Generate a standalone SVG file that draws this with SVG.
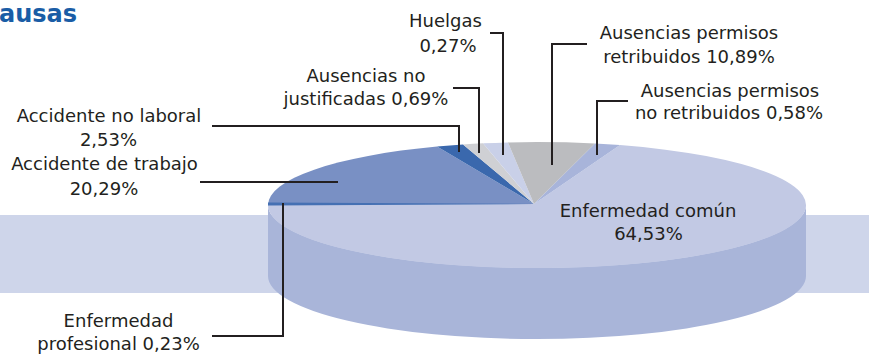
<svg xmlns="http://www.w3.org/2000/svg" width="869" height="354" viewBox="0 0 869 354">
<style>
text{font-family:"DejaVu Sans","Verdana",sans-serif;font-size:18px;fill:#231f20;text-anchor:middle}
.title{font-weight:bold;font-size:24px;fill:#1a5da6;text-anchor:start}
.lead{fill:none;stroke:#231f20;stroke-width:2}
</style>
<rect id="band" x="0" y="215" width="869" height="78" fill="#ced5ea"/>
<text class="title" x="-1" y="22">ausas</text>
<g id="pie">
<path id="side" d="M268,205 L268,276 A269,63 0 0 0 806,276 L806,205 A269,63 0 0 1 268,205 Z" fill="#a9b5d9"/>
<g id="enf-comun"><path d="M534,204 L620,145.1 A269,63 0 1 1 268,205 Z" fill="#c2c9e4"/></g>
<g id="acc-trabajo"><path d="M534,204 L268,205 A269,63 0 0 1 437,146.5 Z" fill="#7990c4"/></g>
<g id="acc-no-laboral"><path d="M534,204 L437,146.5 A269,63 0 0 1 463,144.4 Z" fill="#3a68ad"/></g>
<g id="aus-no-just"><path d="M534,204 L463,144.4 A269,63 0 0 1 483,143.3 Z" fill="#cfd0d4"/></g>
<g id="huelgas"><path d="M534,204 L483,143.3 A269,63 0 0 1 508,142.4 Z" fill="#c9d0e8"/></g>
<g id="perm-retrib"><path d="M534,204 L508,142.4 A269,63 0 0 1 595,143.5 Z" fill="#bbbcbf"/></g>
<g id="perm-no-retrib"><path d="M534,204 L595,143.5 A269,63 0 0 1 620,145.1 Z" fill="#a8b4da"/></g>
<g id="enf-prof"><polygon points="268,202.5 268,205.5 534,204" fill="#4570b3"/></g>
</g>
<g id="connectors">
<polyline class="lead" points="490,33 503,33 503,155"/>
<polyline class="lead" points="587,44 552,44 552,165"/>
<polyline class="lead" points="628,101 597,101 597,155"/>
<polyline class="lead" points="453,88 479,88 479,153"/>
<polyline class="lead" points="212,126 459,126 459,152"/>
<polyline class="lead" points="200,182 338,182"/>
<polyline class="lead" points="212,336 283,336 283,203"/>
</g>
<g id="lbl-huelgas"><text x="445.5" y="27">Huelgas</text><text x="448" y="52">0,27%</text></g>
<g id="lbl-perm-retrib"><text x="689" y="39">Ausencias permisos</text><text x="689" y="63">retribuidos 10,89%</text></g>
<g id="lbl-perm-no-retrib"><text x="730" y="97">Ausencias permisos</text><text x="729" y="119">no retribuidos 0,58%</text></g>
<g id="lbl-aus-no-just"><text x="366" y="82">Ausencias no</text><text x="366" y="105">justificadas 0,69%</text></g>
<g id="lbl-acc-no-laboral"><text x="109" y="122">Accidente no laboral</text><text x="108.5" y="146">2,53%</text></g>
<g id="lbl-acc-trabajo"><text x="104.5" y="170">Accidente de trabajo</text><text x="104" y="195">20,29%</text></g>
<g id="lbl-enf-prof"><text x="118.5" y="327">Enfermedad</text><text x="118.5" y="350">profesional 0,23%</text></g>
<g id="lbl-enf-comun"><text x="648" y="217">Enfermedad común</text><text x="648.5" y="240">64,53%</text></g>
</svg>
